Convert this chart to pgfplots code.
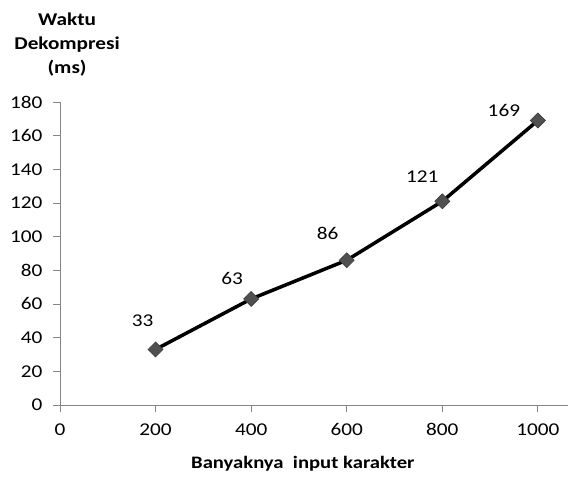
\documentclass[border=0pt]{standalone}
\usepackage{fontspec}
\setmainfont{Carlito}[FakeStretch=1.18]
\usepackage{pgfplots}
\pgfplotsset{compat=1.18}
\definecolor{axgray}{RGB}{134,134,134}
\definecolor{mkfill}{RGB}{80,80,80}
\definecolor{mkdraw}{RGB}{60,60,60}
\begin{document}
\begin{tikzpicture}
\begin{axis}[
    scale only axis,
    width=508pt, height=303pt,
    xmin=0, xmax=1063,
    ymin=0, ymax=180,
    xtick={0,200,400,600,800,1000},
    ytick={0,20,...,180},
    axis lines*=left,
    axis line style={axgray, line width=0.8pt},
    tick style={axgray, line width=0.8pt},
    tick align=outside,
    major tick length=7pt,
    font=\fontsize{18}{22}\selectfont,
    /pgf/number format/assume math mode=true,
    /pgf/number format/1000 sep={},
    yticklabel style={xshift=-7pt},
    xticklabel style={yshift=-8pt},
    clip=false,
    nodes near coords,
    visualization depends on={\thisrow{dx}\as\dx},
    visualization depends on={\thisrow{dy}\as\dy},
    nodes near coords style={anchor=center, xshift=\dx pt, yshift=\dy pt,
        font=\fontsize{18}{22}\selectfont, text=black},
]
\addplot[black, line width=3.5pt,
    mark=square*, mark size=5.3pt,
    mark options={rotate=45, fill=mkfill, draw=mkdraw, line width=0.6pt}]
table[x=x, y=y] {
x    y    dx   dy
200  33   -13  29
400  63   -19  20
600  86   -19  27
800  121  -20  25
1000 169  -34  10
};
\node[align=center, font=\bfseries\fontsize{18}{24}\selectfont, anchor=center]
    at (rel axis cs:0.014,1.188) {Waktu\\Dekompresi\\(ms)};
\node[font=\bfseries\fontsize{17.5}{22}\selectfont, anchor=center]
    at (rel axis cs:0.478,-0.195) {Banyaknya\ \ input karakter};
\path (rel axis cs:-0.1181,-0.2475) rectangle (rel axis cs:1.002,1.3366);
\end{axis}
\end{tikzpicture}
\end{document}
